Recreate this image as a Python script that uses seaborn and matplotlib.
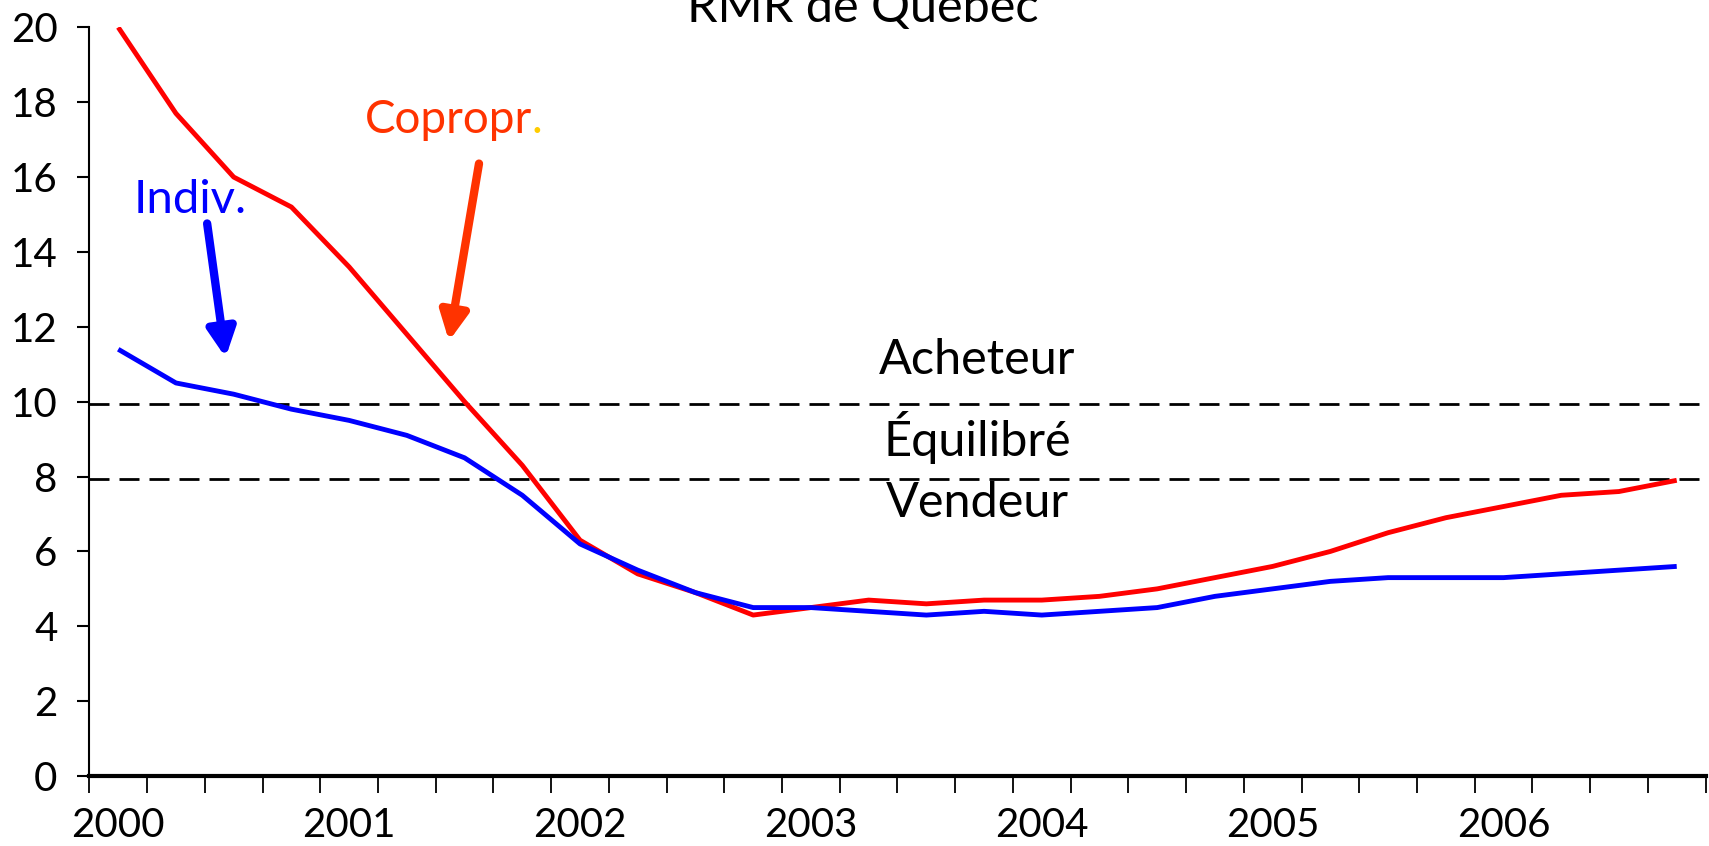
import matplotlib
matplotlib.use("Agg")
import matplotlib.pyplot as plt
import seaborn as sns
import pandas as pd
import numpy as np

# ---- data (quarterly, 2000Q1 .. 2006Q4) ----
years = ["2000", "2001", "2002", "2003", "2004", "2005", "2006"]
copropr = [20.0, 17.7, 16.0, 15.2, 13.6, 11.8, 10.0, 8.3,
           6.3, 5.4, 4.9, 4.3, 4.5, 4.7, 4.6, 4.7,
           4.7, 4.8, 5.0, 5.3, 5.6, 6.0, 6.5, 6.9,
           7.2, 7.5, 7.6, 7.9]
indiv = [11.4, 10.5, 10.2, 9.8, 9.5, 9.1, 8.5, 7.5,
         6.2, 5.5, 4.9, 4.5, 4.5, 4.4, 4.3, 4.4,
         4.3, 4.4, 4.5, 4.8, 5.0, 5.2, 5.3, 5.3,
         5.3, 5.4, 5.5, 5.6]
seuils = [9.94, 7.93]
zones = ["Acheteur", "Équilibré", "Vendeur"]
title = "RMR de Québec"

n = len(copropr)
df = pd.DataFrame({
    "k": list(range(n)) * 2,
    "val": copropr + indiv,
    "serie": ["Copropr."] * n + ["Indiv."] * n,
})

sns.set_style("white")
plt.rcParams["font.family"] = ["Lato", "DejaVu Sans"]
plt.rcParams["text.color"] = "black"
plt.rcParams["xtick.color"] = "black"
plt.rcParams["ytick.color"] = "black"
plt.rcParams["xtick.labelcolor"] = "black"
plt.rcParams["ytick.labelcolor"] = "black"

fig = plt.figure(figsize=(17.09, 8.46), dpi=100)
ax = fig.add_axes([0.0523, 0.0827, 0.9457, 0.885])

sns.lineplot(data=df, x="k", y="val", hue="serie",
             palette={"Copropr.": "#FF0000", "Indiv.": "#0000FF"},
             linewidth=3.5, legend=False, ax=ax)
for l in ax.lines:
    l.set_solid_capstyle("butt")

for s in seuils:
    ax.axhline(s, color="black", lw=2.0, linestyle=(0, (7.2, 3.6)), zorder=1)

ax.set_xlim(-0.5, n - 0.5)
ax.set_ylim(0, 20)
ax.set_xlabel("")
ax.set_ylabel("")

# ticks
ax.set_yticks(np.arange(0, 21, 2))
ax.tick_params(axis="y", direction="out", length=9, width=1.5, pad=14,
               labelsize=29, left=True, colors="black")
ax.set_xticks(np.arange(-0.5, n, 1.0))
ax.set_xticklabels([])
ax.tick_params(axis="x", which="major", direction="out", length=12, width=1.3,
               bottom=True, colors="black")
ax.set_xticks(np.arange(0, n, 4), minor=True)
ax.set_xticklabels(years, minor=True)
ax.tick_params(axis="x", which="minor", length=0, pad=22, labelsize=29,
               labelcolor="black")

for side in ["top", "right"]:
    ax.spines[side].set_visible(False)
ax.spines["left"].set_color("black")
ax.spines["left"].set_linewidth(1.5)
ax.spines["bottom"].set_color("black")
ax.spines["bottom"].set_linewidth(3)

# zone labels
ax.text(14.88, 11.12, zones[0], ha="center", va="center", fontsize=35, color="black")
ax.text(14.88, 9.05, zones[1], ha="center", va="center", fontsize=35, color="black")
ax.text(14.88, 7.3, zones[2], ha="center", va="center", fontsize=35, color="black")

# annotations
ax.text(1.25, 15.4, "Indiv.", color="#0000FF", ha="center", va="center",
        fontsize=34)
ax.annotate("", xy=(1.86, 11.18), xytext=(1.54, 14.76),
            arrowprops=dict(arrowstyle="-|>", lw=6, color="#0000FF",
                            mutation_scale=42, shrinkA=0, shrinkB=0))
t = ax.text(4.27, 17.53, "Copropr", color="#FF3300", ha="left", va="center",
            fontsize=33)
ax.annotate(".", xy=(1, 0), xycoords=t, ha="left", va="bottom",
            color="#FFCC00", fontsize=33)
ax.annotate("", xy=(5.73, 11.62), xytext=(6.25, 16.36),
            arrowprops=dict(arrowstyle="-|>", lw=6, color="#FF3300",
                            mutation_scale=42, shrinkA=0, shrinkB=0))

fig.text(0.505, 0.974, title, ha="center", va="baseline", fontsize=35,
         color="black")

fig.savefig("out.png", dpi=100)
